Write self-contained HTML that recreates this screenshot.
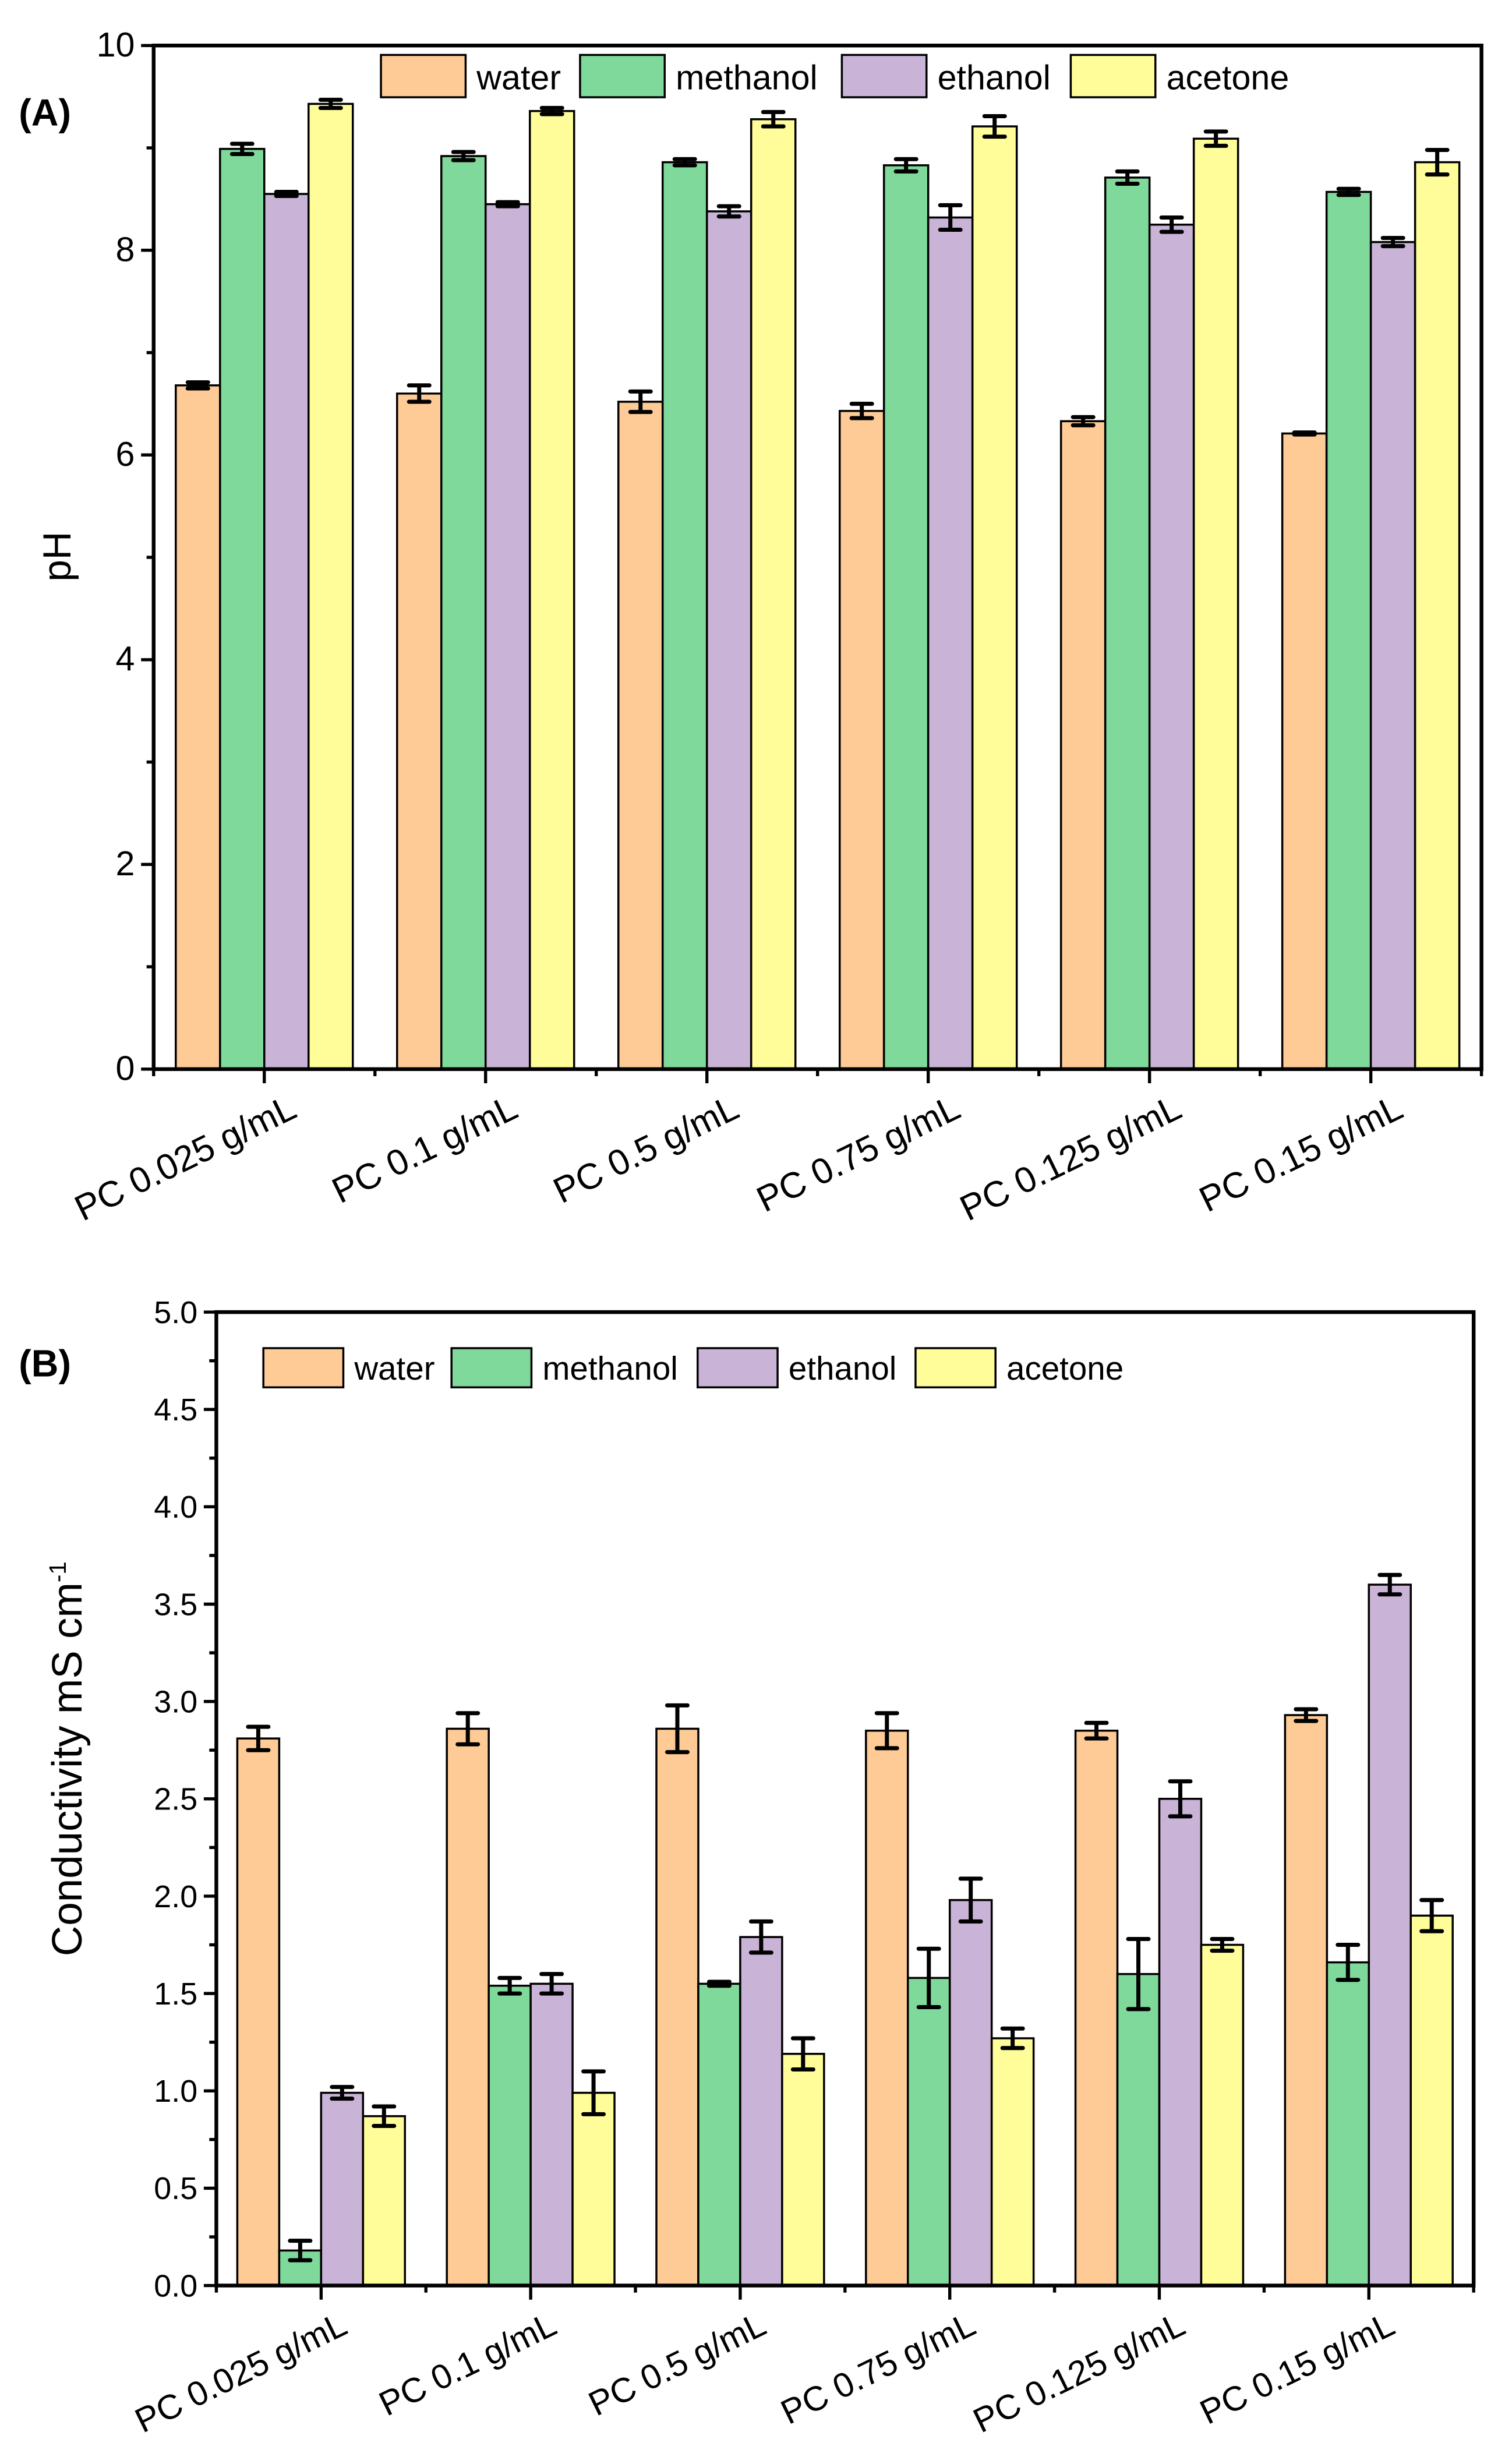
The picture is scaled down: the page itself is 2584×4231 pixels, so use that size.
<!DOCTYPE html>
<html><head><meta charset="utf-8"><style>
html,body{margin:0;padding:0;background:#fff;}
svg{display:block;font-family:"Liberation Sans",Arial,sans-serif;}
</style></head><body>
<svg id="fig" width="2584" height="4231" viewBox="0 0 960 1571.8" xmlns="http://www.w3.org/2000/svg">
<text x="12" y="80" font-size="24" font-weight="bold">(A)</text>
<text x="12" y="878" font-size="24" font-weight="bold">(B)</text>
<text transform="translate(45,355) rotate(-90)" text-anchor="middle" font-size="25">pH</text>
<text transform="translate(52,1122) rotate(-90)" text-anchor="middle" font-size="27">Conductivity mS cm<tspan dy="-10" font-size="15">-1</tspan></text>
<g id="chartA"></g>
<g id="chartB"></g>
</svg>
<script>
const categories = ["PC 0.025 g/mL","PC 0.1 g/mL","PC 0.5 g/mL","PC 0.75 g/mL","PC 0.125 g/mL","PC 0.15 g/mL"];
const seriesNames = ["water","methanol","ethanol","acetone"];
const seriesColors = ["#FECB96","#7FD99A","#C9B3D7","#FFFD99"];
const phWater = [6.68,6.60,6.52,6.43,6.33,6.21];
const phWaterErr = [0.03,0.08,0.1,0.07,0.04,0.01];
const phMethanol = [8.99,8.92,8.86,8.83,8.71,8.57];
const phMethanolErr = [0.05,0.04,0.03,0.06,0.06,0.03];
const phEthanol = [8.55,8.45,8.38,8.32,8.25,8.08];
const phEthanolErr = [0.02,0.02,0.05,0.12,0.07,0.04];
const phAcetone = [9.43,9.36,9.28,9.21,9.09,8.86];
const phAcetoneErr = [0.04,0.03,0.07,0.1,0.07,0.12];
const phTicks = [0,2,4,6,8,10];
const condWater = [2.81,2.86,2.86,2.85,2.85,2.93];
const condWaterErr = [0.06,0.08,0.12,0.09,0.04,0.03];
const condMethanol = [0.18,1.54,1.55,1.58,1.60,1.66];
const condMethanolErr = [0.05,0.04,0.01,0.15,0.18,0.09];
const condEthanol = [0.99,1.55,1.79,1.98,2.50,3.60];
const condEthanolErr = [0.03,0.05,0.08,0.11,0.09,0.05];
const condAcetone = [0.87,0.99,1.19,1.27,1.75,1.90];
const condAcetoneErr = [0.05,0.11,0.08,0.05,0.03,0.08];
const condTicks = ["0.0","0.5","1.0","1.5","2.0","2.5","3.0","3.5","4.0","4.5","5.0"];

const NS="http://www.w3.org/2000/svg";
function mk(parent,tag,attrs){const e=document.createElementNS(NS,tag);for(const k in attrs)e.setAttribute(k,attrs[k]);parent.appendChild(e);return e;}

function drawChart(g,cfg){
  const {L,R,T,B,ymax,ticks,minorStep,vals,errs,tickFont,xFont,legend,labelDx,labelDy,prefix}=cfg;
  const y=v=>B-(v/ymax)*(B-T);
  const gw=(R-L)/categories.length;
  const x=i=>L+gw*(i+0.5);
  const bw=gw*0.2;
  for(let s=0;s<4;s++){
    for(let i=0;i<categories.length;i++){
      const bx=x(i)-2*bw+s*bw;
      const r=mk(g,'rect',{x:bx,y:y(vals[s][i]),width:bw,height:B-y(vals[s][i]),fill:seriesColors[s],stroke:'#000','stroke-width':1.3});
      
      
      const cx=bx+bw/2, cw=6.5;
      const e=mk(g,'path',{d:`M${cx},${y(vals[s][i]+errs[s][i])}V${y(vals[s][i]-errs[s][i])}M${cx-cw},${y(vals[s][i]+errs[s][i])}H${cx+cw}M${cx-cw},${y(vals[s][i]-errs[s][i])}H${cx+cw}`,stroke:'#000','stroke-width':2.6,fill:'none','stroke-linecap':'round'});
      
      
    }
  }
  const f=mk(g,'rect',{x:L,y:T,width:R-L,height:B-T,fill:'none',stroke:'#000','stroke-width':2.4});
  
  
  for(let k=0;k<ticks.length;k++){
    const v=parseFloat(ticks[k]);
    mk(g,'line',{x1:L-8,x2:L,y1:y(v),y2:y(v),stroke:'#000','stroke-width':2});
    const t=mk(g,'text',{x:L-12,y:y(v)+7,'text-anchor':'end','font-size':tickFont});
    t.textContent=ticks[k];
    
    
  }
  for(let v=minorStep;v<ymax;v+=2*minorStep){
    mk(g,'line',{x1:L-4.5,x2:L,y1:y(v),y2:y(v),stroke:'#000','stroke-width':2});
  }
  for(let i=0;i<=categories.length;i++){
    mk(g,'line',{x1:L+gw*i,x2:L+gw*i,y1:B,y2:B+4.5,stroke:'#000','stroke-width':2});
  }
  for(let i=0;i<categories.length;i++){
    mk(g,'line',{x1:x(i),x2:x(i),y1:B,y2:B+9,stroke:'#000','stroke-width':2});
    const t=mk(g,'text',{transform:`translate(${x(i)+labelDx},${B+labelDy}) rotate(-26)`,'text-anchor':'end','font-size':xFont});
    t.textContent=categories[i];
    
    
  }
  for(let s=0;s<4;s++){
    const lg=mk(g,'g',{});
    
    
    mk(lg,'rect',{x:legend.bx[s],y:legend.y,width:legend.w,height:legend.h,fill:seriesColors[s],stroke:'#000','stroke-width':1.3});
    const t=mk(lg,'text',{x:legend.bx[s]+legend.w+7,y:legend.y+legend.h-5,'font-size':legend.fs});
    t.textContent=seriesNames[s];
  }
}
drawChart(document.getElementById('chartA'),{L:98,R:945,T:29,B:682,ymax:10,ticks:phTicks.map(String),minorStep:1,
  vals:[phWater,phMethanol,phEthanol,phAcetone],errs:[phWaterErr,phMethanolErr,phEthanolErr,phAcetoneErr],tickFont:22,xFont:23,
  legend:{bx:[243,370,537,683],y:35,w:54,h:27,fs:22},labelDx:22,labelDy:30,prefix:'ph'});
drawChart(document.getElementById('chartB'),{L:138,R:940,T:837,B:1458,ymax:5,ticks:condTicks,minorStep:0.25,
  vals:[condWater,condMethanol,condEthanol,condAcetone],errs:[condWaterErr,condMethanolErr,condEthanolErr,condAcetoneErr],tickFont:20,xFont:22,
  legend:{bx:[168,288,445,584],y:860,w:51,h:25,fs:21},labelDx:18,labelDy:30,prefix:'cond'});
</script>
</body></html>
